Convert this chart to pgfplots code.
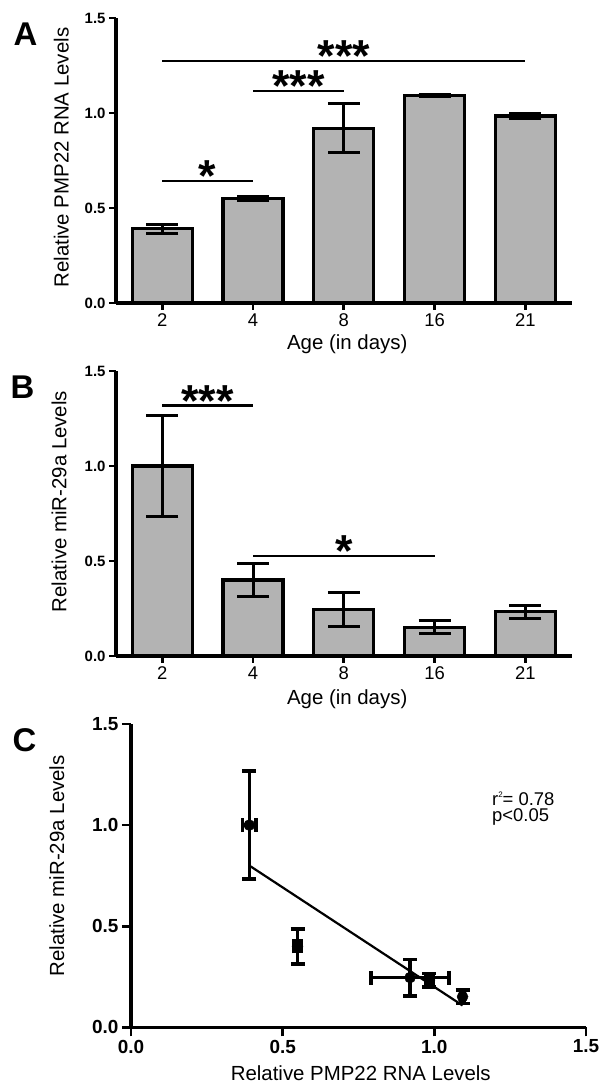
\documentclass[border=0pt]{standalone}
\usepackage{pgfplots}
\pgfplotsset{compat=1.18}
\usepackage{fontspec}
\setmainfont{Liberation Sans}
\definecolor{barfill}{RGB}{179,179,179}

\pgfplotsset{
  panel/.style={
    scale only axis,
    axis lines=left,
    axis line style={-, line width=3.2bp, black},
    tick align=outside,
    major tick length=7bp,
    every tick/.style={line width=2.8bp, black},
    ymin=0, ymax=1.5,
    ytick={0,0.5,1,1.5},
    yticklabel style={font=\fontsize{15}{15}\selectfont\bfseries},
    y tick label style={/pgf/number format/fixed, /pgf/number format/fixed zerofill, /pgf/number format/precision=1, /pgf/number format/assume math mode=true},
    clip=false,
    label style={font=\fontsize{20.5}{24}\selectfont},
  },
  barpanel/.style={
    panel,
    width=456bp, height=285bp,
    xmin=-0.51, xmax=4.515,
    xtick={0,1,2,3,4},
    xticklabels={2,4,8,16,21},
    xticklabel style={font=\fontsize{18.5}{18.5}\selectfont},
    xlabel={Age (in days)},
  },
  bars/.style={
    ybar, bar width=0.66, fill=barfill, draw=black, line width=3.2bp,
    error bars/.cd, y dir=both, y explicit,
    error bar style={line width=3bp, black},
    error mark options={rotate=90, mark size=16bp, line width=3bp, black},
  },
}
\tikzset{stars/.style={font=\fontsize{45}{45}\selectfont\bfseries, anchor=base, inner sep=0pt}}

\begin{document}
\begin{tikzpicture}
\path[use as bounding box] (0,0) rectangle (610bp,1092bp);

% Panel A
\begin{axis}[barpanel, at={(116bp,789bp)}, anchor=south west,
  ylabel={Relative PMP22 RNA Levels},
  ylabel style={at={(axis description cs:-0.12,0.51)}, anchor=center},
  xlabel style={at={(axis description cs:0.507,-0.145)}, anchor=center}]
\addplot[bars] coordinates {
  (0,0.390) +- (0,0.022)
  (1,0.549) +- (0,0.012)
  (2,0.920) +- (0,0.128)
  (3,1.093) +- (0,0.005)
  (4,0.984) +- (0,0.012)
};
\addplot[black, line width=2.5bp] coordinates {(0,1.273) (4,1.273)};
\addplot[black, line width=2.5bp] coordinates {(1,1.115) (2,1.115)};
\addplot[black, line width=2.5bp] coordinates {(0,0.642) (1,0.642)};
\node[stars] at (axis cs:2,1.216) {***};
\node[stars] at (axis cs:1.5,1.058) {***};
\node[stars] at (axis cs:0.5,0.585) {*};
\end{axis}

% Panel B
\begin{axis}[barpanel, at={(116bp,436bp)}, anchor=south west,
  ylabel={Relative miR-29a Levels},
  ylabel style={at={(axis description cs:-0.125,0.542)}, anchor=center},
  xlabel style={at={(axis description cs:0.507,-0.15)}, anchor=center}]
\addplot[bars] coordinates {
  (0,1.000) +- (0,0.268)
  (1,0.400) +- (0,0.086)
  (2,0.246) +- (0,0.090)
  (3,0.151) +- (0,0.034)
  (4,0.233) +- (0,0.034)
};
\addplot[black, line width=2.5bp] coordinates {(0,1.319) (1,1.319)};
\addplot[black, line width=2.5bp] coordinates {(1,0.526) (3,0.526)};
\node[stars] at (axis cs:0.5,1.262) {***};
\node[stars] at (axis cs:2,0.469) {*};
\end{axis}

% Panel C
\begin{axis}[panel, width=455bp, height=303.3bp, at={(131bp,64.7bp)}, anchor=south west,
  xmin=0, xmax=1.5, xtick={0,0.5,1,1.5},
  major tick length=9bp,
  xticklabel style={font=\fontsize{19}{19}\selectfont\bfseries},
  x tick label style={/pgf/number format/fixed, /pgf/number format/fixed zerofill, /pgf/number format/precision=1, /pgf/number format/assume math mode=true},
  yticklabel style={font=\fontsize{19}{19}\selectfont\bfseries},
  xlabel={Relative PMP22 RNA Levels},
  ylabel={Relative miR-29a Levels},
  xlabel style={at={(axis description cs:0.505,-0.152)}, anchor=center},
  ylabel style={at={(axis description cs:-0.163,0.532)}, anchor=center}]
\addplot[black, line width=2.2bp] coordinates {(0.39,0.80) (1.093,0.108)};
% x error bars
\addplot[black, only marks, mark=none,
  error bars/.cd, x dir=both, x explicit,
  error bar style={line width=3.5bp, black},
  error mark options={rotate=90, mark size=7bp, line width=3.5bp, black}]
coordinates {
  (0.390,1.000) +- (0.022,0)
  (0.549,0.400) +- (0.012,0)
  (0.920,0.246) +- (0.128,0)
  (0.984,0.233) +- (0.012,0)
  (1.093,0.151) +- (0.005,0)
};
% y error bars and markers
\addplot[black, only marks, mark=*, mark size=5.5bp,
  error bars/.cd, y dir=both, y explicit,
  error bar style={line width=3.5bp, black},
  error mark options={rotate=90, mark size=7bp, line width=3.5bp, black}]
coordinates {
  (0.390,1.000) +- (0,0.267)
  (0.549,0.400) +- (0,0.086)
  (0.920,0.246) +- (0,0.090)
  (0.984,0.233) +- (0,0.034)
  (1.093,0.151) +- (0,0.034)
};
\node[anchor=north west, inner sep=0pt, align=left, font=\fontsize{18.5}{16.5}\selectfont] at (axis cs:1.19,1.165) {r\raisebox{0.8ex}{\fontsize{8}{8}\selectfont 2}= 0.78\\p<0.05};
\end{axis}

% panel letters
\node[font=\fontsize{33}{33}\selectfont\bfseries] at (25.5bp,1058bp) {A};
\node[font=\fontsize{33}{33}\selectfont\bfseries] at (22.5bp,704.5bp) {B};
\node[font=\fontsize{33}{33}\selectfont\bfseries] at (24.5bp,351.5bp) {C};
\end{tikzpicture}
\end{document}
